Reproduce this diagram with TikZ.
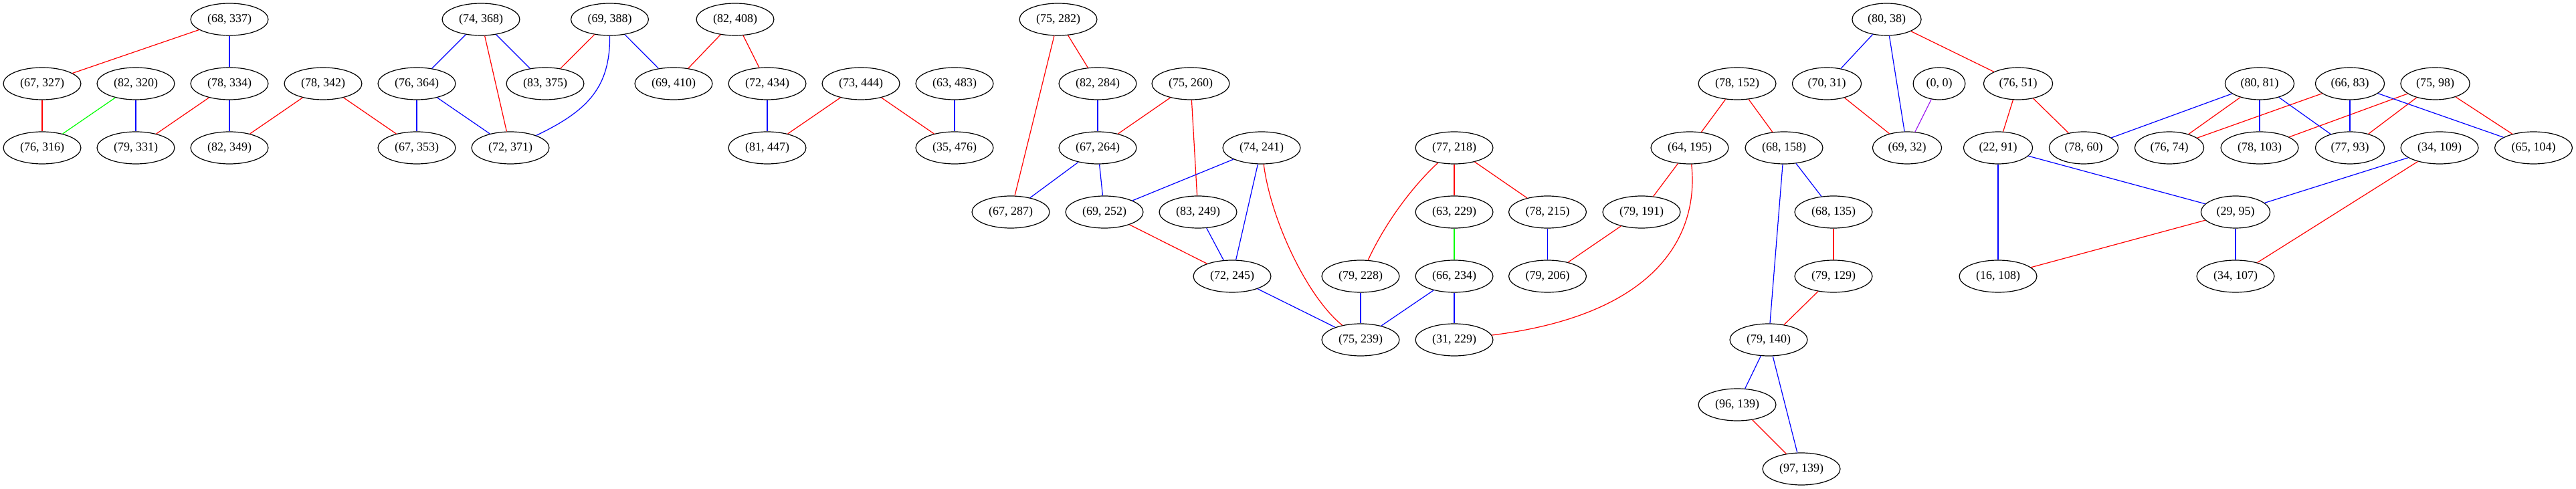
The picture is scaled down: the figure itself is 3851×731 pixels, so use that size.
\documentclass[tikz,border=0pt]{standalone}
\usepackage{fontspec}
\setmainfont{Liberation Serif}
\usetikzlibrary{shapes.geometric}
\definecolor{gvpurple}{HTML}{A020F0}
\begin{document}
\begin{tikzpicture}[x=0.5pt,y=-0.5pt,
        pairnode/.style={draw,ellipse,line width=0.6pt,inner xsep=4pt,inner ysep=0pt,minimum height=24pt,font=\fontsize{9}{10}\selectfont},
        redline/.style={draw=red,line width=0.6pt},
        blueline/.style={draw=blue,line width=0.6pt},
        greenline/.style={draw=green,line width=0.6pt},
        purpleline/.style={draw=gvpurple,line width=0.6pt}]
        \useasboundingbox (0,0) rectangle (3851,731);
        \node[pairnode] (p68-337) at (343,29) {(68, 337)};
        \node[pairnode] (p74-368) at (719,29) {(74, 368)};
        \node[pairnode] (p69-388) at (911.5,29) {(69, 388)};
        \node[pairnode] (p82-408) at (1099,29) {(82, 408)};
        \node[pairnode] (p75-282) at (1582,29) {(75, 282)};
        \node[pairnode] (p80-38) at (2820.5,29) {(80, 38)};
        \node[pairnode] (p67-327) at (63,125) {(67, 327)};
        \node[pairnode] (p82-320) at (203,125) {(82, 320)};
        \node[pairnode] (p78-334) at (343,125) {(78, 334)};
        \node[pairnode] (p78-342) at (483,125) {(78, 342)};
        \node[pairnode] (p76-364) at (623,125) {(76, 364)};
        \node[pairnode] (p83-375) at (815,125) {(83, 375)};
        \node[pairnode] (p69-410) at (1007,125) {(69, 410)};
        \node[pairnode] (p72-434) at (1147,125) {(72, 434)};
        \node[pairnode] (p73-444) at (1287,125) {(73, 444)};
        \node[pairnode] (p63-483) at (1427,125) {(63, 483)};
        \node[pairnode] (p82-284) at (1641,125) {(82, 284)};
        \node[pairnode] (p75-260) at (1780,125) {(75, 260)};
        \node[pairnode] (p78-152) at (2597,125) {(78, 152)};
        \node[pairnode] (p70-31) at (2731,125) {(70, 31)};
        \node[pairnode] (p0-0) at (2899,125) {(0, 0)};
        \node[pairnode] (p76-51) at (3017,125) {(76, 51)};
        \node[pairnode] (p80-81) at (3378,125) {(80, 81)};
        \node[pairnode] (p66-83) at (3513,125) {(66, 83)};
        \node[pairnode] (p75-98) at (3640.5,125) {(75, 98)};
        \node[pairnode] (p76-316) at (63,221) {(76, 316)};
        \node[pairnode] (p79-331) at (203,221) {(79, 331)};
        \node[pairnode] (p82-349) at (343,221) {(82, 349)};
        \node[pairnode] (p67-353) at (623,221) {(67, 353)};
        \node[pairnode] (p72-371) at (763,221) {(72, 371)};
        \node[pairnode] (p81-447) at (1147,221) {(81, 447)};
        \node[pairnode] (p35-476) at (1427,221) {(35, 476)};
        \node[pairnode] (p67-264) at (1641,221) {(67, 264)};
        \node[pairnode] (p74-241) at (1886,221) {(74, 241)};
        \node[pairnode] (p77-218) at (2174,221) {(77, 218)};
        \node[pairnode] (p64-195) at (2526,221) {(64, 195)};
        \node[pairnode] (p68-158) at (2667,221) {(68, 158)};
        \node[pairnode] (p69-32) at (2851,221) {(69, 32)};
        \node[pairnode] (p22-91) at (2987,221) {(22, 91)};
        \node[pairnode] (p78-60) at (3115,221) {(78, 60)};
        \node[pairnode] (p76-74) at (3243,221) {(76, 74)};
        \node[pairnode] (p78-103) at (3378,221) {(78, 103)};
        \node[pairnode] (p77-93) at (3513,221) {(77, 93)};
        \node[pairnode] (p34-109) at (3647,221) {(34, 109)};
        \node[pairnode] (p65-104) at (3787.5,221) {(65, 104)};
        \node[pairnode] (p67-287) at (1511,317) {(67, 287)};
        \node[pairnode] (p69-252) at (1651,317) {(69, 252)};
        \node[pairnode] (p83-249) at (1791,317) {(83, 249)};
        \node[pairnode] (p63-229) at (2174,317) {(63, 229)};
        \node[pairnode] (p78-215) at (2313.5,317) {(78, 215)};
        \node[pairnode] (p79-191) at (2454,317) {(79, 191)};
        \node[pairnode] (p68-135) at (2741,317) {(68, 135)};
        \node[pairnode] (p29-95) at (3342,317) {(29, 95)};
        \node[pairnode] (p72-245) at (1842,413) {(72, 245)};
        \node[pairnode] (p79-228) at (2034,413) {(79, 228)};
        \node[pairnode] (p66-234) at (2174,413) {(66, 234)};
        \node[pairnode] (p79-206) at (2313.5,413) {(79, 206)};
        \node[pairnode] (p79-129) at (2741,413) {(79, 129)};
        \node[pairnode] (p16-108) at (2987,413) {(16, 108)};
        \node[pairnode] (p34-107) at (3342,413) {(34, 107)};
        \node[pairnode] (p75-239) at (2034,508) {(75, 239)};
        \node[pairnode] (p31-229) at (2174,508) {(31, 229)};
        \node[pairnode] (p79-140) at (2644,508) {(79, 140)};
        \node[pairnode] (p96-139) at (2597,605) {(96, 139)};
        \node[pairnode] (p97-139) at (2693,701) {(97, 139)};
        \draw[redline] (p68-337) -- (p67-327);
        \draw[redline] (p67-327) -- (p76-316);
        \draw[redline] (p78-334) -- (p79-331);
        \draw[redline] (p78-342) -- (p82-349);
        \draw[redline] (p78-342) -- (p67-353);
        \draw[redline] (p74-368) -- (p72-371);
        \draw[redline] (p69-388) -- (p83-375);
        \draw[redline] (p82-408) -- (p69-410);
        \draw[redline] (p82-408) -- (p72-434);
        \draw[redline] (p73-444) -- (p81-447);
        \draw[redline] (p73-444) -- (p35-476);
        \draw[redline] (p75-282) -- (p67-287);
        \draw[redline] (p75-282) -- (p82-284);
        \draw[redline] (p75-260) -- (p67-264);
        \draw[redline] (p75-260) -- (p83-249);
        \draw[redline] (p74-241) .. controls (1900,330) and (1955,445) .. (p75-239);
        \draw[redline] (p69-252) -- (p72-245);
        \draw[redline] (p77-218) .. controls (2110,280) and (2070,335) .. (p79-228);
        \draw[redline] (p77-218) -- (p63-229);
        \draw[redline] (p77-218) -- (p78-215);
        \draw[redline] (p79-191) -- (p79-206);
        \draw[redline] (p64-195) -- (p79-191);
        \draw[redline] (p64-195) .. controls (2540,350) and (2480,470) .. (p31-229);
        \draw[redline] (p78-152) -- (p64-195);
        \draw[redline] (p78-152) -- (p68-158);
        \draw[redline] (p80-38) -- (p76-51);
        \draw[redline] (p70-31) -- (p69-32);
        \draw[redline] (p76-51) -- (p22-91);
        \draw[redline] (p76-51) -- (p78-60);
        \draw[redline] (p68-135) -- (p79-129);
        \draw[redline] (p79-129) -- (p79-140);
        \draw[redline] (p29-95) -- (p16-108);
        \draw[redline] (p96-139) -- (p97-139);
        \draw[redline] (p80-81) -- (p76-74);
        \draw[redline] (p66-83) -- (p76-74);
        \draw[redline] (p75-98) -- (p78-103);
        \draw[redline] (p75-98) -- (p77-93);
        \draw[redline] (p75-98) -- (p65-104);
        \draw[redline] (p34-109) -- (p34-107);
        \draw[blueline] (p68-337) -- (p78-334);
        \draw[blueline] (p82-320) -- (p79-331);
        \draw[blueline] (p78-334) -- (p82-349);
        \draw[blueline] (p76-364) -- (p67-353);
        \draw[blueline] (p74-368) -- (p76-364);
        \draw[blueline] (p76-364) -- (p72-371);
        \draw[blueline] (p74-368) -- (p83-375);
        \draw[blueline] (p69-388) .. controls (912,130) and (880,165) .. (p72-371);
        \draw[blueline] (p69-388) -- (p69-410);
        \draw[blueline] (p72-434) -- (p81-447);
        \draw[blueline] (p63-483) -- (p35-476);
        \draw[blueline] (p82-284) -- (p67-264);
        \draw[blueline] (p67-264) -- (p67-287);
        \draw[blueline] (p67-264) -- (p69-252);
        \draw[blueline] (p74-241) -- (p69-252);
        \draw[blueline] (p74-241) -- (p72-245);
        \draw[blueline] (p83-249) -- (p72-245);
        \draw[blueline] (p72-245) -- (p75-239);
        \draw[blueline] (p78-215) -- (p79-206);
        \draw[blueline] (p79-228) -- (p75-239);
        \draw[blueline] (p66-234) -- (p75-239);
        \draw[blueline] (p66-234) -- (p31-229);
        \draw[blueline] (p80-38) -- (p70-31);
        \draw[blueline] (p80-38) -- (p69-32);
        \draw[blueline] (p68-158) -- (p68-135);
        \draw[blueline] (p68-158) -- (p79-140);
        \draw[blueline] (p22-91) -- (p16-108);
        \draw[blueline] (p22-91) -- (p29-95);
        \draw[blueline] (p79-140) -- (p96-139);
        \draw[blueline] (p79-140) -- (p97-139);
        \draw[blueline] (p80-81) -- (p78-60);
        \draw[blueline] (p80-81) -- (p78-103);
        \draw[blueline] (p80-81) -- (p77-93);
        \draw[blueline] (p66-83) -- (p77-93);
        \draw[blueline] (p66-83) -- (p65-104);
        \draw[blueline] (p34-109) -- (p29-95);
        \draw[blueline] (p29-95) -- (p34-107);
        \draw[greenline] (p82-320) -- (p76-316);
        \draw[greenline] (p63-229) -- (p66-234);
        \draw[purpleline] (p0-0) -- (p69-32);
    \end{tikzpicture}
\end{document}
